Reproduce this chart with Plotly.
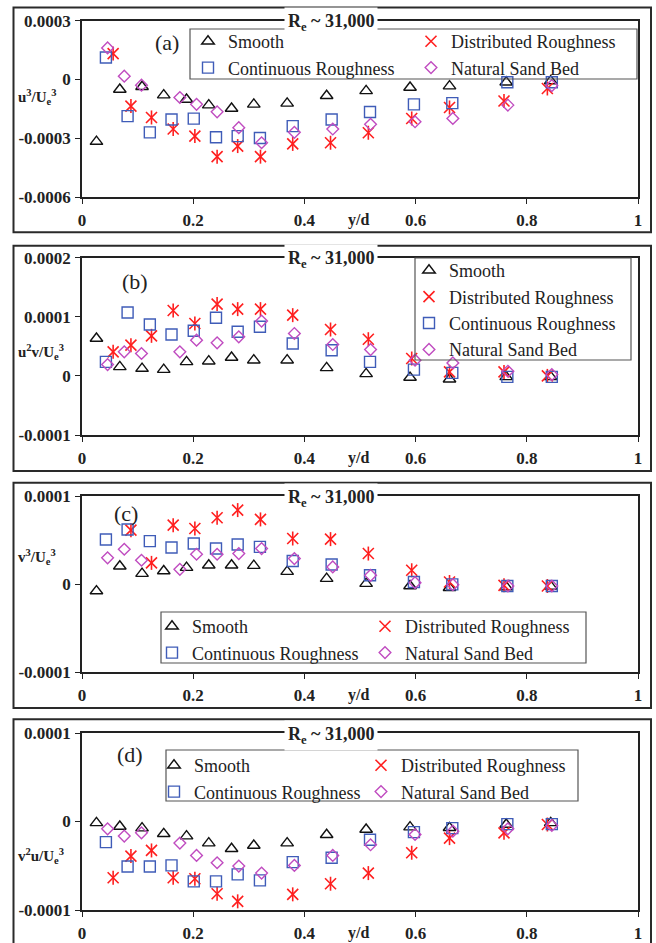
import plotly.graph_objects as go

W, H = 656, 943
ML, MR = 82, 18
PW = W - ML - MR


def px_x(px):
    return (px - ML) / PW


def px_y(py):
    return 1 - py / H


# ---------------- data ----------------
series_names = ["Smooth", "Distributed Roughness", "Continuous Roughness", "Natural Sand Bed"]

x_smooth = [0.026, 0.068, 0.108, 0.147, 0.188, 0.228, 0.269, 0.309, 0.369, 0.440, 0.511, 0.590, 0.661, 0.763, 0.843]
x_dist = [0.056, 0.088, 0.125, 0.164, 0.203, 0.243, 0.280, 0.321, 0.379, 0.447, 0.515, 0.593, 0.661, 0.759, 0.837]
x_cont = [0.043, 0.082, 0.122, 0.161, 0.201, 0.241, 0.280, 0.320, 0.379, 0.449, 0.518, 0.597, 0.666, 0.765, 0.845]
x_nat = [0.046, 0.076, 0.107, 0.176, 0.206, 0.243, 0.282, 0.323, 0.382, 0.451, 0.519, 0.599, 0.667, 0.766, 0.845]

# (a) u^3/Ue^3
a_smooth = [-0.000317, -0.000051, -0.000037, -0.00008, -0.000102, -0.000131, -0.000148, -0.000127, -0.000122, -0.000083, -0.000058, -0.000041, -0.000034, -0.000014, -0.000008]
a_dist = [0.000132, -0.000136, -0.000194, -0.000253, -0.000289, -0.000394, -0.00034, -0.000394, -0.000329, -0.000323, -0.000272, -0.000199, -0.000143, -0.00011, -0.000046]
a_cont = [0.000112, -0.000187, -0.00027, -0.000204, -0.0002, -0.000295, -0.000289, -0.000299, -0.000238, -0.000204, -0.000166, -0.000127, -0.000121, -0.000014, -0.000014]
a_nat = [0.000161, 0.000017, -0.000029, -0.000092, -0.000127, -0.000165, -0.000246, -0.000323, -0.00027, -0.000253, -0.000229, -0.000216, -0.000199, -0.000131, -0.000031]

# (b) u^2v/Ue^3
b_smooth = [0.0000633, 0.0000153, 0.0000124, 0.0000107, 0.0000237, 0.0000249, 0.0000311, 0.0000266, 0.0000266, 0.0000136, 0.0000034, -0.0000028, -0.0000056, -0.0000017, -0.0000017]
b_dist = [0.0000407, 0.000052, 0.0000678, 0.0001107, 0.0000887, 0.0001215, 0.000113, 0.000113, 0.0001028, 0.0000785, 0.0000621, 0.0000294, 0.0000068, 0.0000068, 0.0]
b_cont = [0.0000237, 0.0001073, 0.000087, 0.00007, 0.0000763, 0.0000983, 0.0000746, 0.0000831, 0.0000548, 0.0000435, 0.0000237, 0.0000107, 0.0000051, -0.0000017, -0.0000017]
b_nat = [0.0000192, 0.0000407, 0.0000379, 0.0000407, 0.0000605, 0.0000559, 0.0000661, 0.0000927, 0.0000718, 0.0000531, 0.0000446, 0.0000266, 0.000022, 0.0000079, 0.0000023]

# (c) v^3/Ue^3
c_smooth = [-0.000008, 0.0000202, 0.0000118, 0.0000148, 0.0000186, 0.0000213, 0.0000213, 0.0000209, 0.0000141, 0.0000061, 0.0000004, -0.0000023, -0.0000042, -0.0000034, -0.0000027]
c_dist = [None, 0.0000612, 0.000024, 0.0000669, 0.0000631, 0.0000753, 0.000084, 0.0000734, 0.0000517, 0.000051, 0.0000346, 0.0000156, 0.0000023, -0.0000015, -0.0000023]
c_cont = [0.0000506, 0.000062, 0.0000487, 0.0000414, 0.000046, 0.0000403, 0.0000449, 0.0000422, 0.0000262, 0.0000221, 0.0000099, 0.0000023, -0.0000004, -0.0000023, -0.0000023]
c_nat = [0.0000297, 0.0000395, 0.000027, 0.0000167, 0.0000338, 0.0000338, 0.0000346, 0.0000403, 0.0000289, 0.0000194, 0.0000099, 0.0000015, -0.0000008, -0.0000023, -0.0000023]

# (d) v^2u/Ue^3
d_smooth = [-0.0000015, -0.0000056, -0.0000075, -0.0000139, -0.0000165, -0.0000244, -0.0000308, -0.0000271, -0.0000244, -0.000015, -0.000009, -0.0000064, -0.0000071, -0.0000034, -0.0000015]
d_dist = [-0.0000635, -0.0000391, -0.0000327, -0.0000635, -0.0000647, -0.0000816, -0.0000902, None, -0.0000823, -0.0000703, -0.0000583, -0.0000353, -0.0000188, -0.0000128, -0.0000034]
d_cont = [-0.0000233, -0.0000508, -0.0000508, -0.0000496, -0.0000677, -0.0000677, -0.0000598, -0.0000665, -0.0000459, -0.000041, -0.0000207, -0.000012, -0.0000075, -0.000003, -0.000003]
d_nat = [-0.0000083, -0.0000165, -0.0000128, -0.0000244, -0.0000383, -0.0000466, -0.0000504, -0.0000583, -0.0000496, -0.0000383, -0.0000263, -0.0000147, -0.0000109, -0.0000083, -0.0000045]

x_tickvals = [0, 0.2, 0.4, 0.6, 0.8, 1]
x_ticktext = ["0", "0.2", "0.4", "0.6", "0.8", "1"]

a_tickvals = [-0.0006, -0.0003, 0, 0.0003]
a_ticktext = ["-0.0006", "-0.0003", "0", "0.0003"]
b_tickvals = [-0.0001, 0, 0.0001, 0.0002]
b_ticktext = ["-0.0001", "0", "0.0001", "0.0002"]
cd_tickvals = [-0.0001, 0, 0.0001]
cd_ticktext = ["-0.0001", "0", "0.0001"]

panel_labels = ["(a)", "(b)", "(c)", "(d)"]
y_titles = [
    "<b>u<sup>3</sup>/U<sub>e</sub><sup>3</sup></b>",
    "<b>u<sup>2</sup>v/U<sub>e</sub><sup>3</sup></b>",
    "<b>v<sup>3</sup>/U<sub>e</sub><sup>3</sup></b>",
    "<b>v<sup>2</sup>u/U<sub>e</sub><sup>3</sup></b>",
]
re_text = "<b>R<sub>e</sub> ~ 31,000</b>"
x_title = "<b>y/d</b>"

# ---------------- styling / layout geometry ----------------
SERIF = "Liberation Serif"
C_SMOOTH = "#111111"
C_DIST = "#ff1f1f"
C_CONT = "#3f5cb8"
C_NAT = "#c04cc0"

panels = [
    dict(data=(a_smooth, a_dist, a_cont, a_nat), rng=[-0.0006, 0.0003], tv=a_tickvals, tt=a_ticktext,
         top=20.7, bot=197.0, frame=(7.5, 232.3), label=(167, 43), ytitle_y=97,
         legend=dict(x=188, top=23, orient="h", ew=178), lbox=(190, 29, 637, 79)),
    dict(data=(b_smooth, b_dist, b_cont, b_nat), rng=[-0.0001, 0.0002], tv=b_tickvals, tt=b_ticktext,
         top=257.7, bot=435.0, frame=(245.7, 471.0), label=(135, 282), ytitle_y=352,
         legend=dict(x=409, top=252, orient="v", ew=None), lbox=(415, 258, 631, 360)),
    dict(data=(c_smooth, c_dist, c_cont, c_nat), rng=[-0.0001, 0.0001], tv=cd_tickvals, tt=cd_ticktext,
         top=496.0, bot=672.0, frame=(482.7, 708.0), label=(126, 513), ytitle_y=557,
         legend=dict(x=152, top=608, orient="h", ew=168), lbox=(161, 612, 586, 663)),
    dict(data=(d_smooth, d_dist, d_cont, d_nat), rng=[-0.0001, 0.0001], tv=cd_tickvals, tt=cd_ticktext,
         top=733.0, bot=910.0, frame=(719.3, 956.0), label=(130, 754), ytitle_y=856,
         legend=dict(x=154, top=747, orient="h", ew=162), lbox=(166, 750, 578, 801)),
]

fig = go.Figure()
layout_updates = {}
shapes = []
annotations = []

for i, p in enumerate(panels):
    n = i + 1
    xa = "x" if n == 1 else f"x{n}"
    ya = "y" if n == 1 else f"y{n}"
    leg = "legend" if n == 1 else f"legend{n}"
    sm, di, co, na = p["data"]

    fig.add_trace(go.Scatter(x=x_smooth, y=sm, mode="markers", name=series_names[0], xaxis=xa, yaxis=ya,
                             legend=leg, cliponaxis=False,
                             marker=dict(symbol="triangle-up-open", size=11, color=C_SMOOTH, line=dict(width=1.4))))
    fig.add_trace(go.Scatter(x=x_dist, y=di, mode="markers", name=series_names[1], xaxis=xa, yaxis=ya,
                             legend=leg, legendgroup=f"dist{n}", cliponaxis=False,
                             marker=dict(symbol="x-thin-open", size=11, color=C_DIST, line=dict(width=1.6, color=C_DIST))))
    fig.add_trace(go.Scatter(x=x_dist, y=di, mode="markers", name=series_names[1], xaxis=xa, yaxis=ya,
                             legend=leg, legendgroup=f"dist{n}", showlegend=False, cliponaxis=False,
                             marker=dict(symbol="line-ns-open", size=10, color=C_DIST, line=dict(width=1.6, color=C_DIST))))
    fig.add_trace(go.Scatter(x=x_cont, y=co, mode="markers", name=series_names[2], xaxis=xa, yaxis=ya,
                             legend=leg, cliponaxis=False,
                             marker=dict(symbol="square-open", size=11, color=C_CONT, line=dict(width=1.4))))
    fig.add_trace(go.Scatter(x=x_nat, y=na, mode="markers", name=series_names[3], xaxis=xa, yaxis=ya,
                             legend=leg, cliponaxis=False,
                             marker=dict(symbol="diamond-open", size=9, color=C_NAT, line=dict(width=1.4))))

    axis_common = dict(showline=True, linecolor="#222222", linewidth=1.5, mirror=True, showgrid=False,
                       zeroline=False, ticks="outside", ticklen=5, tickwidth=1.3, tickcolor="#222222",
                       automargin=False,
                       tickfont=dict(family=SERIF, size=17, color="#222222", weight="bold"))
    layout_updates["xaxis" if n == 1 else f"xaxis{n}"] = dict(
        domain=[0, 1], range=[0, 1], anchor=ya, tickvals=x_tickvals, ticktext=x_ticktext,
        ticklabelstandoff=2, **axis_common)
    layout_updates["yaxis" if n == 1 else f"yaxis{n}"] = dict(
        domain=[px_y(p["bot"]), px_y(p["top"])], range=p["rng"], anchor=xa,
        tickvals=p["tv"], ticktext=p["tt"], ticklabelstandoff=1, **axis_common)

    lg = p["legend"]
    legend_dict = dict(x=px_x(lg["x"]), y=px_y(lg["top"]), xanchor="left", yanchor="top",
                       bgcolor="rgba(0,0,0,0)", borderwidth=0, traceorder="normal",
                       font=dict(family=SERIF, size=18, color="#222222"))
    if lg["orient"] == "h":
        legend_dict.update(orientation="h", entrywidth=lg["ew"], entrywidthmode="pixels")
    else:
        legend_dict.update(orientation="v")
    layout_updates[leg] = legend_dict

    # outer panel frame
    f_top, f_bot = p["frame"]
    shapes.append(dict(type="rect", xref="paper", yref="paper", x0=px_x(13.5), x1=px_x(651),
                       y0=px_y(f_bot), y1=px_y(f_top), line=dict(color="#2a2a2a", width=2)))
    # legend box
    bx0, by0, bx1, by1 = p["lbox"]
    shapes.append(dict(type="rect", xref="paper", yref="paper", x0=px_x(bx0), x1=px_x(bx1),
                       y0=px_y(by1), y1=px_y(by0), line=dict(color="#555555", width=1.2)))

    # panel label
    lx, ly = p["label"]
    annotations.append(dict(text=panel_labels[i], xref="paper", yref="paper", x=px_x(lx), y=px_y(ly),
                            showarrow=False, xanchor="center", yanchor="middle",
                            font=dict(family=SERIF, size=22, color="#222222")))
    # Re title on top border
    annotations.append(dict(text=re_text, xref="paper", yref="paper", x=px_x(331), y=px_y(p["top"]),
                            showarrow=False, xanchor="center", yanchor="middle", yshift=-2,
                            bgcolor="white", borderpad=3,
                            font=dict(family=SERIF, size=18, color="#222222")))
    # y/d label
    annotations.append(dict(text=x_title, xref="paper", yref="paper", x=px_x(358), y=px_y(p["bot"] + 23),
                            showarrow=False, xanchor="center", yanchor="middle",
                            font=dict(family=SERIF, size=16, color="#222222")))
    # y axis title
    annotations.append(dict(text=y_titles[i], xref="paper", yref="paper", x=px_x(16), y=px_y(p["ytitle_y"]),
                            showarrow=False, xanchor="left", yanchor="middle",
                            font=dict(family=SERIF, size=15, color="#222222")))

fig.update_layout(
    width=W, height=H,
    margin=dict(l=ML, r=MR, t=0, b=0, autoexpand=False),
    paper_bgcolor="white", plot_bgcolor="white",
    shapes=shapes, annotations=annotations,
    **layout_updates,
)

fig.write_html(
    "out.html",
    config={"displayModeBar": False},
    post_script="document.body.style.margin='0';document.body.style.padding='0';document.body.style.overflow='hidden';",
)
